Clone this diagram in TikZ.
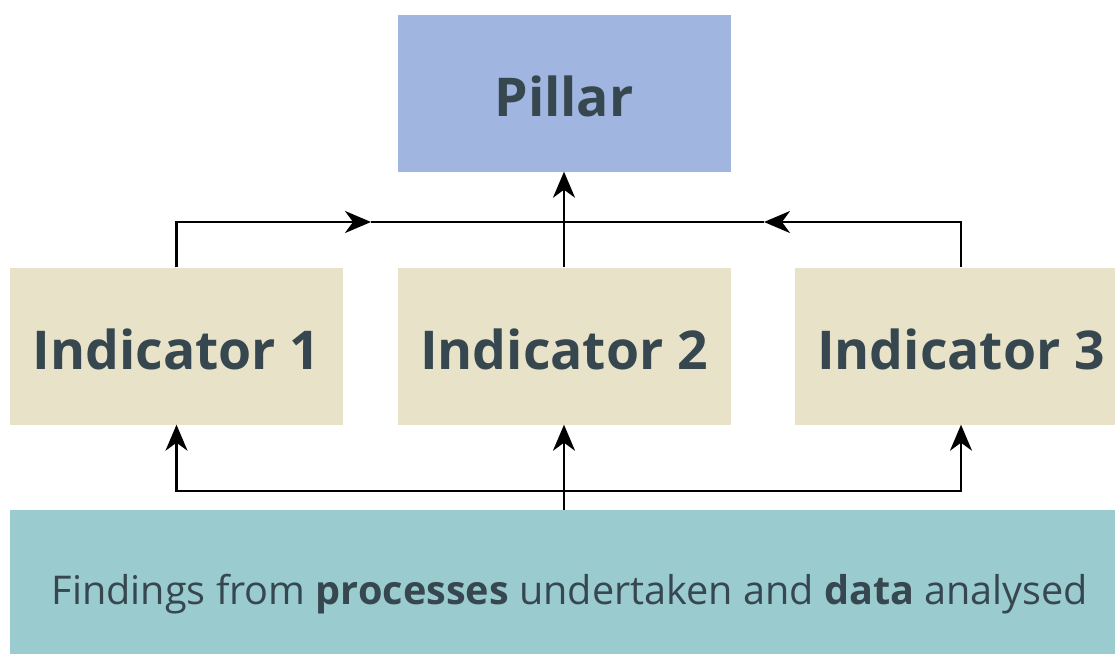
\documentclass[tikz,border=0pt]{standalone}
\usepackage{fontspec}
\setmainfont{Open Sans}
\usetikzlibrary{arrows.meta}
\definecolor{pillarc}{HTML}{A0B6E0}
\definecolor{indc}{HTML}{E8E3C8}
\definecolor{botc}{HTML}{9ACBCF}
\definecolor{txtc}{HTML}{37474F}
\tikzset{
  box/.style={draw=none, inner sep=0pt, minimum width=333pt, minimum height=157pt, text height=47pt, text depth=0pt, text=txtc, font=\fontsize{53.5}{60}\selectfont\bfseries},
  conn/.style={line width=2.6pt, draw=black, -{Stealth[length=26pt,width=22pt,inset=8pt]}},
  plain/.style={line width=2.6pt, draw=black},
}
\begin{document}
\begin{tikzpicture}[x=1pt,y=-1pt]
\useasboundingbox (0,0) rectangle (1115,653);
\begin{scope}
\clip (0,0) rectangle (1115,653);
\node[box, fill=pillarc] (pillar) at (564,93) {Pillar};
\node[box, fill=indc] (ind1) at (176.5,346) {Indicator 1};
\node[box, fill=indc] (ind2) at (564,346) {Indicator 2};
\node[box, fill=indc] (ind3) at (961,346) {Indicator 3};
\node[draw=none, fill=botc, inner sep=0pt, minimum width=1120pt, minimum height=160pt, text height=28pt, text depth=0pt, text=txtc, font=\fontsize{39.6}{45}\selectfont] (bot) at (570,590) {Findings from \textbf{processes} undertaken and \textbf{data} analysed};
\end{scope}
\coordinate (m1) at (371,222);
\coordinate (m2) at (764,222);
\draw[conn] (ind1.north) |- (m1);
\draw[conn] (ind3.north) |- (m2);
\draw[plain] (m1) -- (m2);
\draw[conn] (ind2.north) -- (pillar.south);
\coordinate (b1) at (564,491);
\draw[conn] (bot.north -| ind2.south) -- (ind2.south);
\draw[conn] (b1) -| (ind1.south);
\draw[conn] (b1) -| (ind3.south);
\end{tikzpicture}
\end{document}
